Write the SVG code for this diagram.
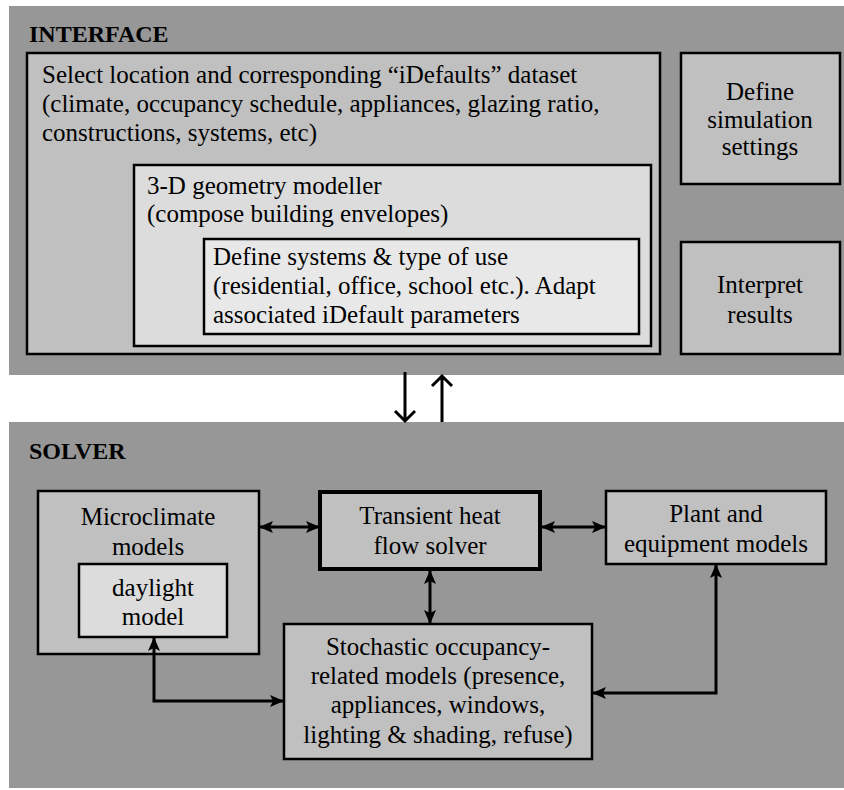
<svg xmlns="http://www.w3.org/2000/svg" width="844" height="790" viewBox="0 0 844 790">
<style>
.t { font-family: 'Liberation Serif', 'Times New Roman', serif; font-size: 25px; fill: #000; }
.title { font-family: 'Liberation Serif', 'Times New Roman', serif; font-size: 24px; font-weight: bold; fill: #000; }
.c { text-anchor: middle; }
.panel { fill: #979797; }
.box { fill: #c0c0c0; stroke: #000; stroke-width: 2.5; }
.l2 { fill: #dcdcdc; }
.l3 { fill: #e8e8e8; }
.thick { stroke-width: 4; }
.conn { fill: none; stroke: #000; stroke-width: 3; }
.both { marker-start: url(#ah); marker-end: url(#ah); }
</style>
<defs>
<marker id="ah" viewBox="0 0 14 14" refX="13" refY="7" markerWidth="14" markerHeight="14" markerUnits="userSpaceOnUse" orient="auto-start-reverse">
<path d="M0,1 L14,7 L0,13 L3,7 z" fill="#000"/>
</marker>
</defs>
<rect width="844" height="790" fill="#fff"/>

<g id="interface">
<rect class="panel" x="9" y="6" width="835" height="369"/>
<text class="title" x="29" y="42">INTERFACE</text>
</g>
<g id="select-location">
<rect class="box" x="27" y="53" width="633" height="301"/>
<text class="t" x="42" y="83">Select location and corresponding “iDefaults” dataset</text>
<text class="t" x="42" y="112">(climate, occupancy schedule, appliances, glazing ratio,</text>
<text class="t" x="42" y="141">constructions, systems, etc)</text>
</g>
<g id="geometry-modeller">
<rect class="box l2" x="134" y="165" width="517" height="181"/>
<text class="t" x="147" y="194">3-D geometry modeller</text>
<text class="t" x="147" y="222">(compose building envelopes)</text>
</g>
<g id="define-systems">
<rect class="box l3" x="204" y="239" width="435" height="95"/>
<text class="t" x="213" y="265">Define systems &amp; type of use</text>
<text class="t" x="213" y="294">(residential, office, school etc.). Adapt</text>
<text class="t" x="213" y="323">associated iDefault parameters</text>
</g>
<g id="define-simulation">
<rect class="box" x="681" y="53" width="159" height="131"/>
<text class="t c" x="760" y="100">Define</text>
<text class="t c" x="760" y="128">simulation</text>
<text class="t c" x="760" y="155">settings</text>
</g>
<g id="interpret-results">
<rect class="box" x="681" y="242" width="159" height="112"/>
<text class="t c" x="760" y="293">Interpret</text>
<text class="t c" x="760" y="323">results</text>
</g>

<g id="solver">
<rect class="panel" x="9" y="422" width="835" height="366"/>
<text class="title" x="29" y="459">SOLVER</text>
</g>
<g id="microclimate">
<rect class="box" x="38" y="491" width="221" height="163"/>
<text class="t c" x="148" y="525">Microclimate</text>
<text class="t c" x="148" y="555">models</text>
</g>
<g id="daylight">
<rect class="box l2" x="79" y="564" width="148" height="73"/>
<text class="t c" x="153" y="596">daylight</text>
<text class="t c" x="153" y="625">model</text>
</g>
<g id="transient">
<rect class="box thick" x="320" y="492" width="220" height="77"/>
<text class="t c" x="430" y="524">Transient heat</text>
<text class="t c" x="430" y="554">flow solver</text>
</g>
<g id="plant">
<rect class="box" x="606" y="491" width="220" height="73"/>
<text class="t c" x="716" y="522">Plant and</text>
<text class="t c" x="716" y="552">equipment models</text>
</g>
<g id="stochastic">
<rect class="box" x="284" y="624" width="308" height="135"/>
<text class="t c" x="438" y="655">Stochastic occupancy-</text>
<text class="t c" x="438" y="684">related models (presence,</text>
<text class="t c" x="438" y="713">appliances, windows,</text>
<text class="t c" x="438" y="743">lighting &amp; shading, refuse)</text>
</g>

<g id="connectors">
<path class="conn" d="M405,372 V421 M395,411 L405,421 L415,411"/>
<path class="conn" d="M442,422 V376 M432,386 L442,376 L452,386"/>
<path class="conn both" d="M260,527 H319"/>
<path class="conn both" d="M542,527 H605"/>
<path class="conn both" d="M430,571 V623"/>
<path class="conn both" d="M593,693 H716 V565"/>
<path class="conn both" d="M154,638 V701 H283"/>
</g>
</svg>
